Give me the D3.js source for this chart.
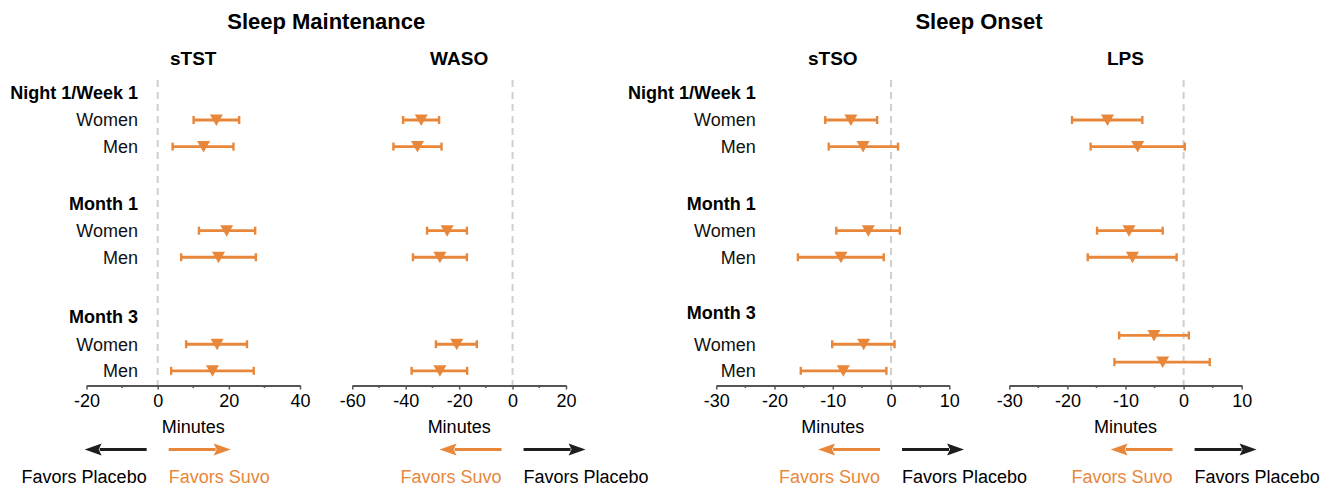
<!DOCTYPE html>
<html><head><meta charset="utf-8">
<script src="https://cdn.jsdelivr.net/npm/d3@7"></script>
<style>body{margin:0;background:#fff} svg{display:block;font-family:"Liberation Sans",Arial,Helvetica,sans-serif}</style>
</head><body><svg id="c" width="1335" height="488"></svg>
<script>
// ---- data (order: Night1/Week1 Women, Men; Month 1 Women, Men; Month 3 Women, Men)
const groups = ["Night 1/Week 1", "Month 1", "Month 3"];
const sexes = ["Women", "Men"];
const sTST_est = [16.5, 12.9, 19.4, 17.1, 16.7, 15.4];
const sTST_lo  = [10.1, 4.2, 11.6, 6.6, 8.0, 3.8];
const sTST_hi  = [22.9, 21.3, 27.4, 27.6, 25.1, 27.0];
const WASO_est = [-34.2, -35.6, -24.5, -27.2, -20.9, -27.2];
const WASO_lo  = [-41.0, -44.6, -32.0, -37.3, -28.7, -37.8];
const WASO_hi  = [-27.5, -26.6, -17.1, -17.1, -13.4, -17.0];
const sTSO_est = [-6.9, -4.8, -3.9, -8.6, -4.7, -8.2];
const sTSO_lo  = [-11.3, -10.7, -9.4, -16.0, -10.1, -15.5];
const sTSO_hi  = [-2.4, 1.2, 1.5, -1.25, 0.6, -0.8];
const LPS_est  = [-13.1, -7.9, -9.4, -8.8, -5.1, -3.6];
const LPS_lo   = [-19.2, -16.0, -14.9, -16.5, -11.1, -11.9];
const LPS_hi   = [-7.1, 0.2, -3.6, -1.2, 0.9, 4.5];
const ticks_sTST = [-20, 0, 20, 40];
const ticks_WASO = [-60, -40, -20, 0, 20];
const ticks_onset = [-30, -20, -10, 0, 10];
const sectionTitles = ["Sleep Maintenance", "Sleep Onset"];
const axisTitle = "Minutes";
const favorsSuvo = "Favors Suvo";
const favorsPlacebo = "Favors Placebo";

// ---- layout / style
const ORANGE = "#E8873A", DARK = "#1e1e1e", AXIS = "#555";
const svg = d3.select("#c");
const groupPos = [0, 4.16, 8.43];
const y = d3.scaleLinear().domain([0, 1]).range([120, 146.6]);
const axisY = 385.5;

const panels = [
  {name:"sTST", est:sTST_est, lo:sTST_lo, hi:sTST_hi, domain:[-20,40], ticks:ticks_sTST, step:10, range:[86.5,300], leftIsSuvo:false, shift:[0,0,0]},
  {name:"WASO", est:WASO_est, lo:WASO_lo, hi:WASO_hi, domain:[-60,20], ticks:ticks_WASO, step:10, range:[352.3,566], leftIsSuvo:true, shift:[0,0,0]},
  {name:"sTSO", est:sTSO_est, lo:sTSO_lo, hi:sTSO_hi, domain:[-30,10], ticks:ticks_onset, step:5, range:[716.3,949.3], leftIsSuvo:true, shift:[0,0,0]},
  {name:"LPS", est:LPS_est, lo:LPS_lo, hi:LPS_hi, domain:[-30,10], ticks:ticks_onset, step:5, range:[1009.3,1241.7], leftIsSuvo:true, shift:[0,0,-0.33]}
];

// row labels (two sides)
const labelSides = [{x:138, headerShift:[-1.04,-1.03,-1.03]}, {x:755.7, headerShift:[-1.04,-1.03,-1.18]}];
labelSides.forEach(side => {
  groups.forEach((g, gi) => {
    svg.append("text").attr("x", side.x).attr("y", y(groupPos[gi] + side.headerShift[gi]))
      .attr("dy", "0.35em").attr("text-anchor", "end")
      .attr("font-size", 18).attr("font-weight", "bold").attr("fill", "#000").text(g);
    sexes.forEach((s, si) => {
      svg.append("text").attr("x", side.x).attr("y", y(groupPos[gi] + si))
        .attr("dy", "0.35em").attr("text-anchor", "end")
        .attr("font-size", 18).attr("fill", "#111").text(s);
    });
  });
});

// section titles
[[panels[0], panels[1]], [panels[2], panels[3]]].forEach((pair, i) => {
  const cx = (pair[0].range[0] + pair[1].range[1]) / 2;
  svg.append("text").attr("x", cx).attr("y", 29).attr("text-anchor", "middle")
    .attr("font-size", 22).attr("font-weight", "bold").attr("fill", "#000").text(sectionTitles[i]);
});

function arrow(g, x1, x2, yy, color) {
  // x1 tail, x2 tip
  const dir = Math.sign(x2 - x1), head = 17, hw = 6;
  g.append("line").attr("x1", x1).attr("x2", x2 - dir * (head - 2)).attr("y1", yy).attr("y2", yy)
    .attr("stroke", color).attr("stroke-width", 3.2);
  g.append("path").attr("d", `M${x2},${yy} L${x2 - dir*head},${yy - hw} L${x2 - dir*(head-3)},${yy} L${x2 - dir*head},${yy + hw} Z`)
    .attr("fill", color);
}

panels.forEach(p => {
  const x = d3.scaleLinear().domain(p.domain).range(p.range);
  const g = svg.append("g");
  const cx = (p.range[0] + p.range[1]) / 2;
  // subtitle
  g.append("text").attr("x", cx).attr("y", 65).attr("text-anchor", "middle")
    .attr("font-size", 19).attr("font-weight", "bold").attr("fill", "#000").text(p.name);
  // zero reference line
  g.append("line").attr("x1", x(0)).attr("x2", x(0)).attr("y1", 80).attr("y2", axisY)
    .attr("stroke", "#cfcfcf").attr("stroke-width", 2).attr("stroke-dasharray", "7,5");
  // axis
  const ax = g.append("g").attr("transform", `translate(0,${axisY})`)
    .call(d3.axisBottom(x).tickValues(p.ticks).tickSize(4).tickSizeOuter(0).tickPadding(5).tickFormat(d3.format("d")));
  ax.select(".domain").attr("stroke", AXIS).attr("stroke-width", 2);
  ax.selectAll(".tick line").attr("stroke", AXIS).attr("stroke-width", 1.5);
  ax.selectAll(".tick text").attr("font-size", 18).attr("fill", "#000").attr("font-family", "Liberation Sans, Arial, sans-serif")
    .text(d => d < 0 ? "-" + Math.abs(d) : d);
  const minor = d3.range(p.domain[0], p.domain[1] + 0.001, p.step).filter(v => !p.ticks.includes(v));
  g.selectAll(".minor").data(minor).join("line")
    .attr("x1", d => x(d)).attr("x2", d => x(d)).attr("y1", axisY).attr("y2", axisY + 2.5)
    .attr("stroke", AXIS).attr("stroke-width", 1.5);
  // error bars + markers
  const rows = p.est.map((e, i) => {
    const gi = Math.floor(i / 2), si = i % 2;
    return {e, lo: p.lo[i], hi: p.hi[i], yy: y(groupPos[gi] + si + p.shift[gi])};
  });
  const eb = g.selectAll(".eb").data(rows).join("g");
  eb.append("line").attr("x1", d => x(d.lo)).attr("x2", d => x(d.hi)).attr("y1", d => d.yy).attr("y2", d => d.yy)
    .attr("stroke", ORANGE).attr("stroke-width", 2.8);
  eb.append("line").attr("x1", d => x(d.lo)).attr("x2", d => x(d.lo)).attr("y1", d => d.yy - 4).attr("y2", d => d.yy + 4)
    .attr("stroke", ORANGE).attr("stroke-width", 2.4);
  eb.append("line").attr("x1", d => x(d.hi)).attr("x2", d => x(d.hi)).attr("y1", d => d.yy - 4).attr("y2", d => d.yy + 4)
    .attr("stroke", ORANGE).attr("stroke-width", 2.4);
  eb.append("path").attr("d", d => `M${x(d.e) - 6.5},${d.yy - 5.5} L${x(d.e) + 6.5},${d.yy - 5.5} L${x(d.e)},${d.yy + 6} Z`)
    .attr("fill", ORANGE);
  // axis title
  g.append("text").attr("x", cx).attr("y", 433).attr("text-anchor", "middle")
    .attr("font-size", 18).attr("fill", "#000").text(axisTitle);
  // favors arrows
  const z = x(0), ay = 449.5;
  const leftColor = p.leftIsSuvo ? ORANGE : DARK, rightColor = p.leftIsSuvo ? DARK : ORANGE;
  arrow(g, z - 11, z - 73, ay, leftColor);
  arrow(g, z + 11, z + 73, ay, rightColor);
  g.append("text").attr("x", z - 11).attr("y", 483).attr("text-anchor", "end")
    .attr("font-size", 18).attr("fill", p.leftIsSuvo ? ORANGE : "#000").text(p.leftIsSuvo ? favorsSuvo : favorsPlacebo);
  g.append("text").attr("x", z + 11).attr("y", 483).attr("text-anchor", "start")
    .attr("font-size", 18).attr("fill", p.leftIsSuvo ? "#000" : ORANGE).text(p.leftIsSuvo ? favorsPlacebo : favorsSuvo);
});
</script></body></html>
